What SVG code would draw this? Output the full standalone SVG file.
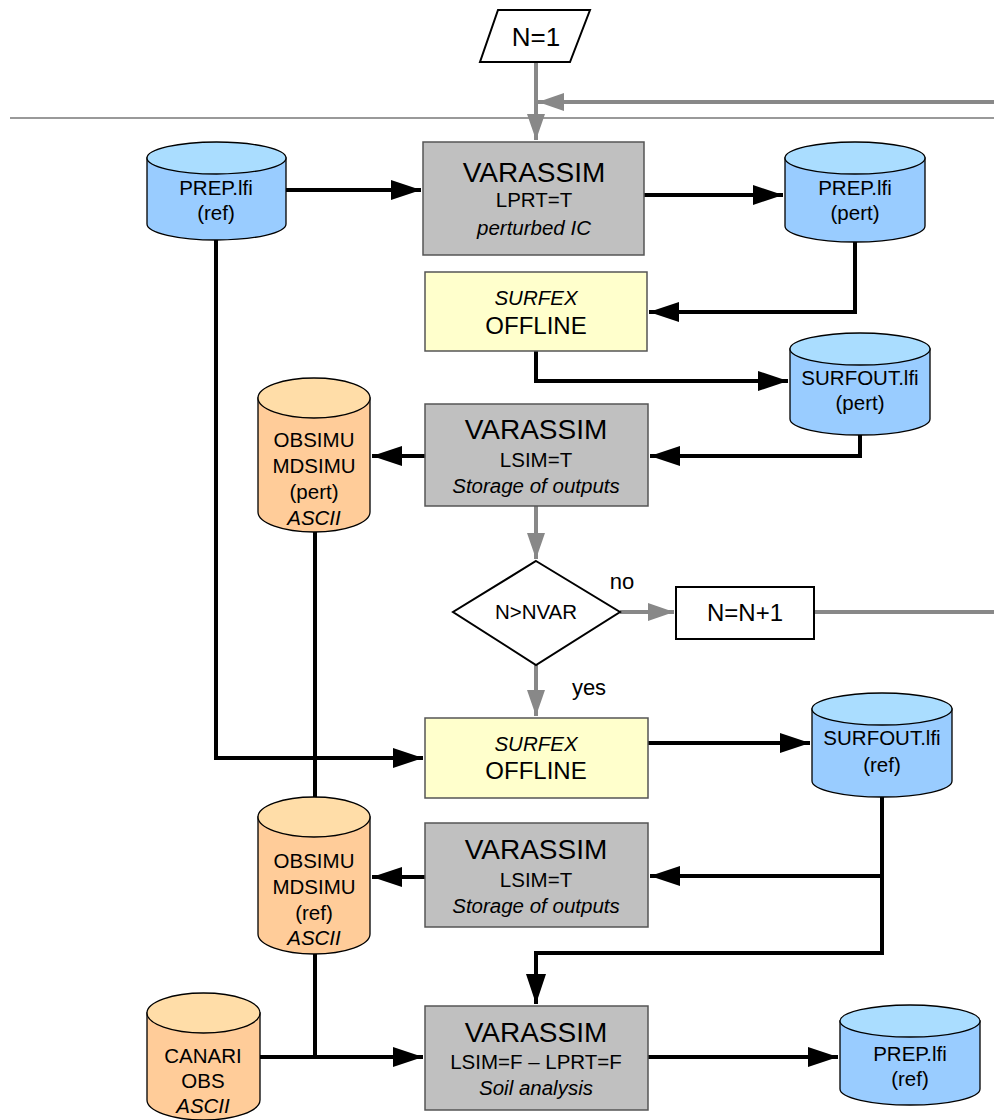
<svg xmlns="http://www.w3.org/2000/svg" width="994" height="1120" viewBox="0 0 994 1120">
<defs>
<style>
text{font-family:"Liberation Sans",Arial,sans-serif;fill:#000;text-anchor:middle}
.t24{font-size:28px}.t18{font-size:20.5px}.t20{font-size:24px}.it{font-style:italic}
.gbox{fill:#c0c0c0;stroke:#555;stroke-width:1.5}
.ybox{fill:#ffffcc;stroke:#555;stroke-width:1.5}
.wbox{fill:#fff;stroke:#000;stroke-width:2}
.cylb{fill:#99ccff;stroke:#000;stroke-width:1.3}
.cylbt{fill:#aaddff;stroke:#000;stroke-width:1.3}
.cylo{fill:#ffcc99;stroke:#000;stroke-width:1.3}
.cylot{fill:#ffdda8;stroke:#000;stroke-width:1.3}
.bl{fill:none;stroke:#000;stroke-width:4}
.gl{fill:none;stroke:#888;stroke-width:4}
</style>
<marker id="ab" markerUnits="userSpaceOnUse" markerWidth="32" markerHeight="22" refX="30" refY="10" orient="auto"><path d="M0,0 L30,10 L0,20 Z" fill="#000"/></marker>
<marker id="ag" markerUnits="userSpaceOnUse" markerWidth="28" markerHeight="20" refX="26" refY="9" orient="auto"><path d="M0,0 L26,9 L0,18 Z" fill="#888"/></marker>
</defs>

<g id="connectors">
<line x1="10" y1="118" x2="994" y2="118" stroke="#999" stroke-width="2"/>
<path class="gl" d="M536,62 V140" marker-end="url(#ag)"/>
<path class="gl" d="M994,102 H538" marker-end="url(#ag)"/>
<path class="bl" d="M286,190 H421" marker-end="url(#ab)"/>
<path class="bl" d="M644,195 H783" marker-end="url(#ab)"/>
<path class="bl" d="M855,242 V312 H649" marker-end="url(#ab)"/>
<path class="bl" d="M536,351 V381 H788" marker-end="url(#ab)"/>
<path class="bl" d="M860,435 V456 H650" marker-end="url(#ab)"/>
<path class="bl" d="M425,456 H372" marker-end="url(#ab)"/>
<path class="gl" d="M536,506 V559" marker-end="url(#ag)"/>
<path class="gl" d="M620,612 H674" marker-end="url(#ag)"/>
<path class="gl" d="M814,612 H994"/>
<path class="gl" d="M536,665 V716" marker-end="url(#ag)"/>
<path class="bl" d="M216,240 V758 H423" marker-end="url(#ab)"/>
<path class="bl" d="M315,532 V800"/>
<path class="bl" d="M648,743 H810" marker-end="url(#ab)"/>
<path class="bl" d="M882,797 V953 H536 V1004" marker-end="url(#ab)"/>
<path class="bl" d="M882,876 H650" marker-end="url(#ab)"/>
<path class="bl" d="M425,877 H372" marker-end="url(#ab)"/>
<path class="bl" d="M315,954 V1057"/>
<path class="bl" d="M260,1057 H423" marker-end="url(#ab)"/>
<path class="bl" d="M648,1057 H838" marker-end="url(#ab)"/>
</g>

<g id="n1">
<polygon points="498,10 590,10 570,62 480,62" class="wbox"/>
<text x="536" y="46" style="font-size:26px">N=1</text>
</g>

<g id="varassim1">
<rect class="gbox" x="423" y="142" width="221" height="113"/>
<text class="t24" x="534" y="182">VARASSIM</text>
<text class="t18" x="534" y="207">LPRT=T</text>
<text class="t18 it" x="534" y="235">perturbed IC</text>
</g>

<g id="prep-ref">
<path class="cylb" d="M147,158 V224 A69.5,16 0 0 0 286,224 V158 Z"/>
<ellipse class="cylbt" cx="216.5" cy="158" rx="69.5" ry="16"/>
<text class="t18" x="216" y="195">PREP.lfi</text>
<text class="t18" x="216" y="220">(ref)</text>
</g>

<g id="prep-pert">
<path class="cylb" d="M785,158 V226 A70,16 0 0 0 925,226 V158 Z"/>
<ellipse class="cylbt" cx="855" cy="158" rx="70" ry="16"/>
<text class="t18" x="855" y="195">PREP.lfi</text>
<text class="t18" x="855" y="220">(pert)</text>
</g>

<g id="surfex1">
<rect class="ybox" x="425" y="272" width="222" height="79"/>
<text class="t18 it" x="536" y="305">SURFEX</text>
<text class="t20" x="536" y="334">OFFLINE</text>
</g>

<g id="surfout-pert">
<path class="cylb" d="M790,349 V419 A70,16 0 0 0 930,419 V349 Z"/>
<ellipse class="cylbt" cx="860" cy="349" rx="70" ry="16"/>
<text class="t18" x="860" y="385">SURFOUT.lfi</text>
<text class="t18" x="860" y="410">(pert)</text>
</g>

<g id="varassim2">
<rect class="gbox" x="425" y="404" width="223" height="102"/>
<text class="t24" x="536" y="439">VARASSIM</text>
<text class="t18" x="536" y="467">LSIM=T</text>
<text class="t18 it" x="536" y="493">Storage of outputs</text>
</g>

<g id="obsimu-pert">
<path class="cylo" d="M258,398 V512 A56,20 0 0 0 370,512 V398 Z"/>
<ellipse class="cylot" cx="314" cy="398" rx="56" ry="20"/>
<text class="t18" x="314" y="447">OBSIMU</text>
<text class="t18" x="314" y="473">MDSIMU</text>
<text class="t18" x="314" y="499">(pert)</text>
<text class="t18 it" x="314" y="525">ASCII</text>
</g>

<g id="decision">
<polygon points="536,561 620,612 536,665 453,612" class="wbox"/>
<text x="536" y="619" style="font-size:20.5px">N&gt;NVAR</text>
<text x="622" y="589" style="font-size:22px">no</text>
<text x="589" y="695" style="font-size:22px">yes</text>
</g>

<g id="increment">
<rect class="wbox" x="676" y="587" width="138" height="52"/>
<text class="t20" x="745" y="621">N=N+1</text>
</g>

<g id="surfex2">
<rect class="ybox" x="425" y="718" width="223" height="80"/>
<text class="t18 it" x="536" y="751">SURFEX</text>
<text class="t20" x="536" y="779">OFFLINE</text>
</g>

<g id="surfout-ref">
<path class="cylb" d="M812,709 V781 A70,16 0 0 0 952,781 V709 Z"/>
<ellipse class="cylbt" cx="882" cy="709" rx="70" ry="16"/>
<text class="t18" x="882" y="745">SURFOUT.lfi</text>
<text class="t18" x="882" y="772">(ref)</text>
</g>

<g id="varassim3">
<rect class="gbox" x="425" y="823" width="223" height="104"/>
<text class="t24" x="536" y="859">VARASSIM</text>
<text class="t18" x="536" y="887">LSIM=T</text>
<text class="t18 it" x="536" y="913">Storage of outputs</text>
</g>

<g id="obsimu-ref">
<path class="cylo" d="M258,817 V934 A56,20 0 0 0 370,934 V817 Z"/>
<ellipse class="cylot" cx="314" cy="817" rx="56" ry="20"/>
<text class="t18" x="314" y="868">OBSIMU</text>
<text class="t18" x="314" y="894">MDSIMU</text>
<text class="t18" x="314" y="920">(ref)</text>
<text class="t18 it" x="314" y="945">ASCII</text>
</g>

<g id="canari">
<path class="cylo" d="M147,1013 V1100 A56.5,20 0 0 0 260,1100 V1013 Z"/>
<ellipse class="cylot" cx="203.5" cy="1013" rx="56.5" ry="20"/>
<text class="t18" x="203" y="1063">CANARI</text>
<text class="t18" x="203" y="1088">OBS</text>
<text class="t18 it" x="203" y="1113">ASCII</text>
</g>

<g id="varassim4">
<rect class="gbox" x="425" y="1006" width="223" height="104"/>
<text class="t24" x="536" y="1042">VARASSIM</text>
<text class="t18" x="536" y="1069">LSIM=F – LPRT=F</text>
<text class="t18 it" x="536" y="1095">Soil analysis</text>
</g>

<g id="prep-ref-out">
<path class="cylb" d="M840,1021 V1089 A70,16 0 0 0 980,1089 V1021 Z"/>
<ellipse class="cylbt" cx="910" cy="1021" rx="70" ry="16"/>
<text class="t18" x="910" y="1061">PREP.lfi</text>
<text class="t18" x="910" y="1086">(ref)</text>
</g>
</svg>
